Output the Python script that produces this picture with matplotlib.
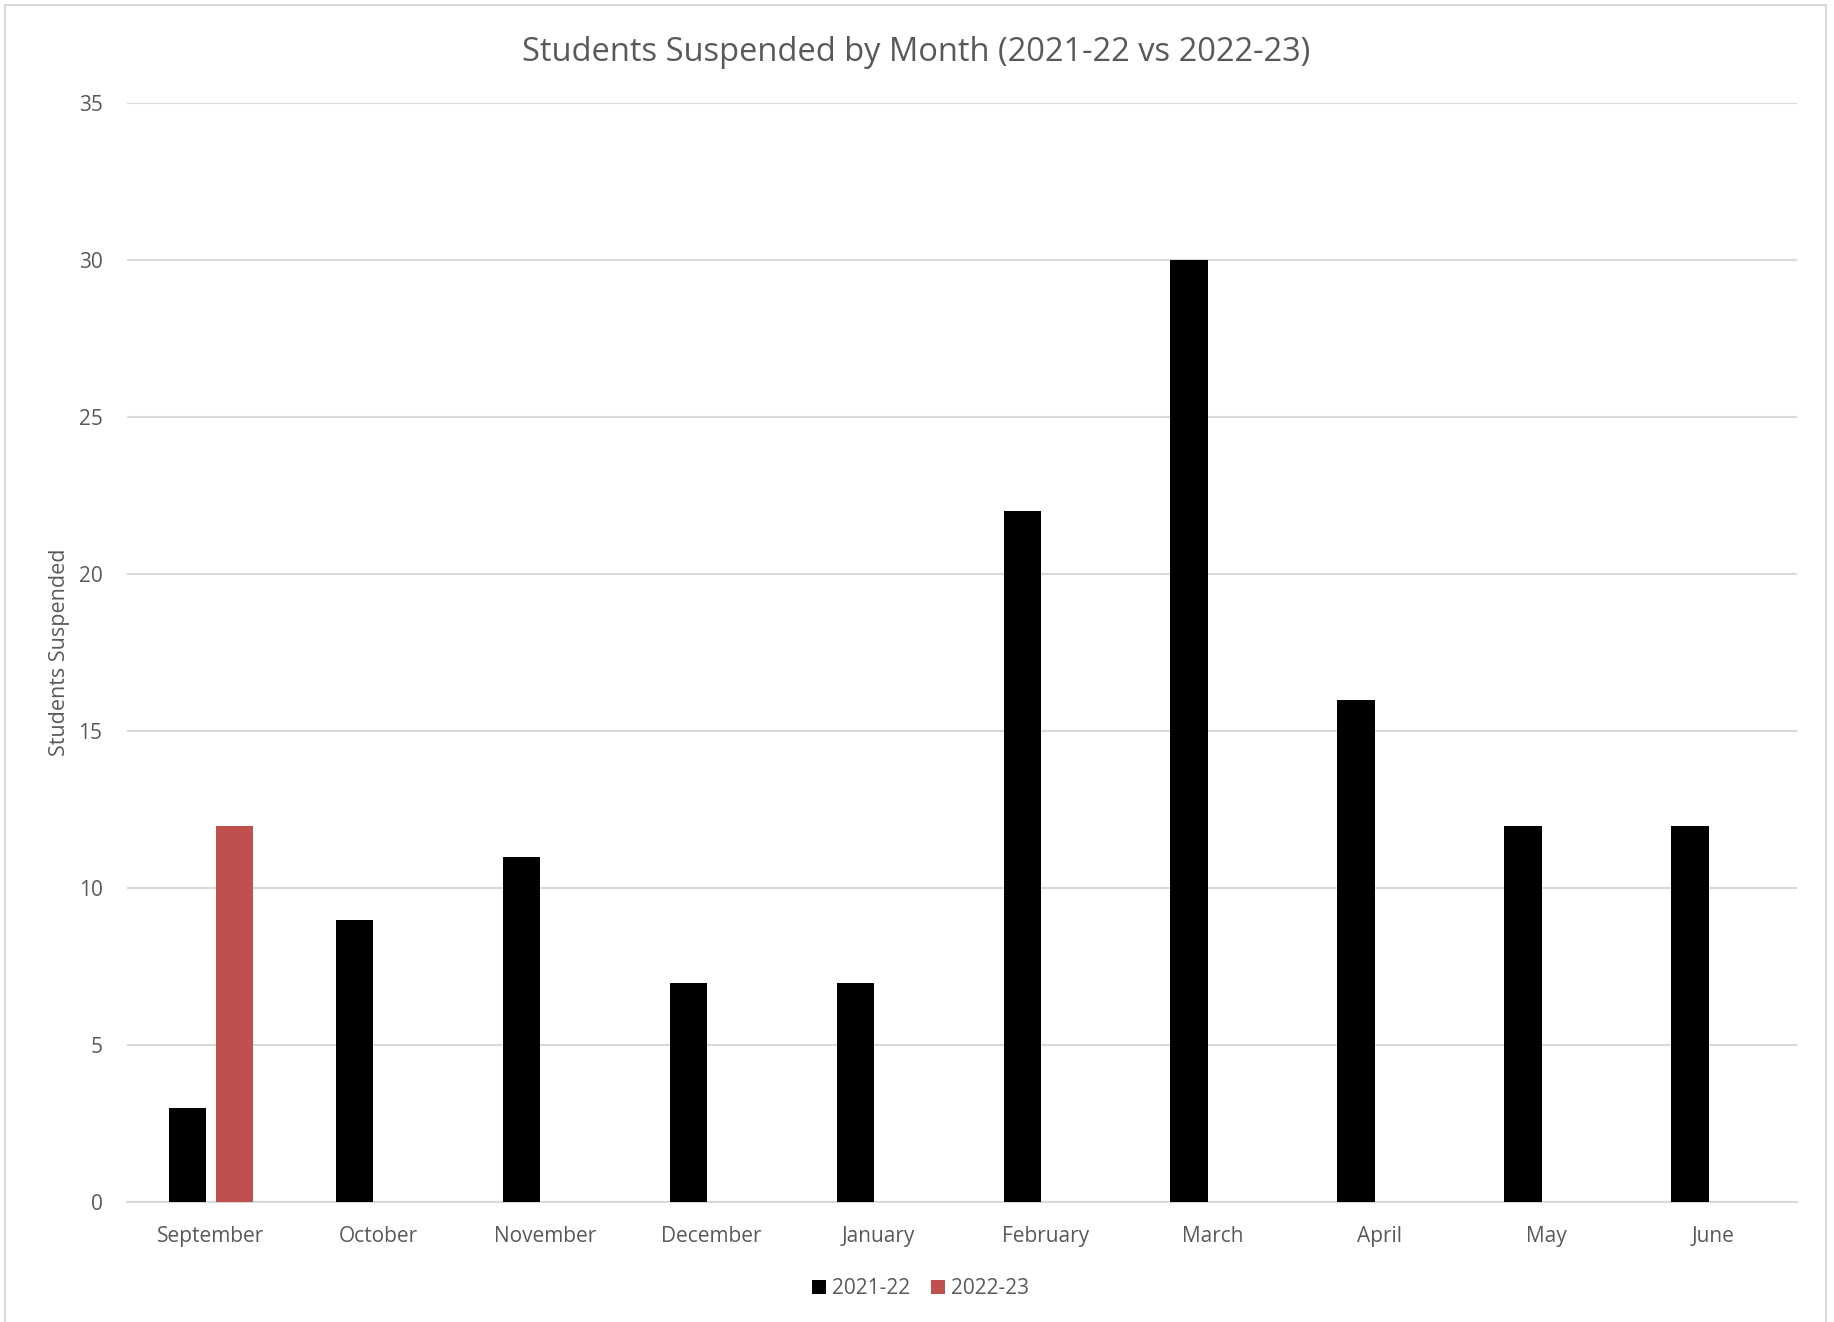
import numpy as np
import matplotlib.pyplot as plt
from matplotlib.patches import Rectangle

# data
months = ["September", "October", "November", "December", "January",
          "February", "March", "April", "May", "June"]
suspended_2122 = [3, 9, 11, 7, 7, 22, 30, 16, 12, 12]
suspended_2223 = [12, 0, 0, 0, 0, 0, 0, 0, 0, 0]
y_ticks = [0, 5, 10, 15, 20, 25, 30, 35]

text_col = "#595959"
grid_col = "#D9D9D9"
red = "#C0504D"

plt.rcParams["font.family"] = ["Open Sans", "DejaVu Sans"]

fig = plt.figure(figsize=(18.34, 13.22), dpi=100)
ax = fig.add_axes([0.0695, 0.0904, 0.9102, 0.8317])

x = np.arange(len(months))
w = 0.224
ax.bar(x - 0.14, suspended_2122, width=w, color="black", label="2021-22", zorder=3)
ax.bar(x + 0.14, suspended_2223, width=w, color=red, label="2022-23", zorder=3)

ax.set_xlim(-0.5, len(months) - 0.5)
ax.set_ylim(0, 35)
ax.set_yticks(y_ticks)
ax.set_xticks(x)
ax.set_xticklabels(months)
ax.tick_params(axis="both", length=0, labelsize=15, labelcolor=text_col)
ax.tick_params(axis="x", pad=17)
ax.tick_params(axis="y", pad=18)
ax.grid(axis="y", color=grid_col, linewidth=1.5, zorder=0)
for s in ["top", "right", "left"]:
    ax.spines[s].set_visible(False)
ax.spines["bottom"].set_color(grid_col)
ax.spines["bottom"].set_linewidth(1.5)

ax.set_ylabel("Students Suspended", fontsize=15.5, color=text_col, labelpad=6)
fig.text(0.4995, 0.960, "Students Suspended by Month (2021-22 vs 2022-23)",
         fontsize=23.5, color=text_col, ha="center", va="center")

handles, labels = ax.get_legend_handles_labels()
fig.legend(handles, labels, loc="center", bbox_to_anchor=(0.502, 0.025), ncol=2,
           frameon=False, fontsize=15, labelcolor=text_col, handlelength=0.65,
           handleheight=0.65, handletextpad=0.3, columnspacing=1.0)

# outer chart border
fig.patches.append(Rectangle((5 / 1834, -0.01), 1821 / 1834, 1 - 5 / 1322 + 0.01,
                             transform=fig.transFigure, fill=False,
                             edgecolor=grid_col, linewidth=1.5))

fig.savefig("out.png", dpi=100, facecolor="white")
